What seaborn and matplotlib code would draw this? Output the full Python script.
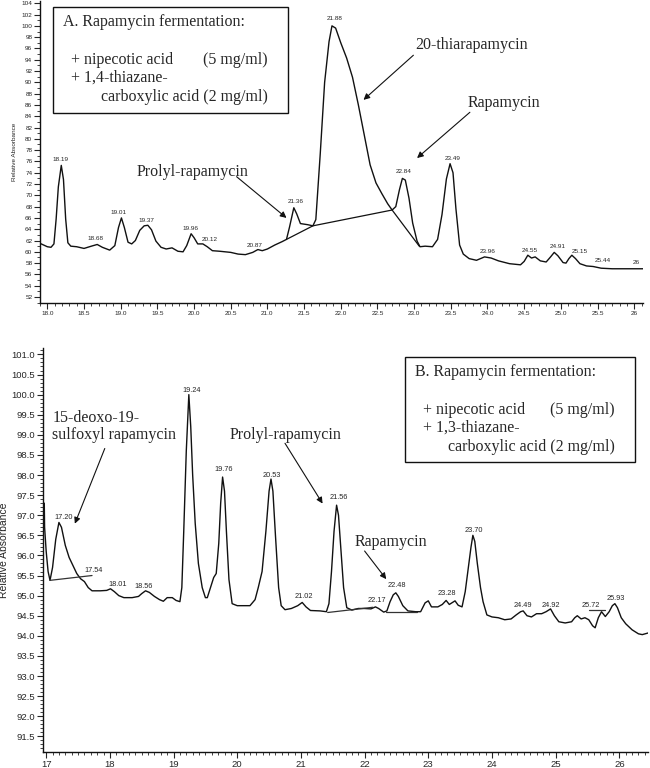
import matplotlib
matplotlib.use("Agg")
import matplotlib.pyplot as plt
import matplotlib.patches as patches
from matplotlib.ticker import MultipleLocator, FixedLocator
import pandas as pd
import seaborn as sns

# ---- panel A trace (retention time, relative absorbance) ----
a_time = [17.9, 17.95, 18.0, 18.05, 18.09, 18.12, 18.15, 18.19, 18.22, 18.25, 18.28, 18.32,
          18.4, 18.5, 18.6, 18.68, 18.75, 18.85, 18.92, 18.97, 19.01, 19.05, 19.1, 19.15,
          19.2, 19.26, 19.32, 19.37, 19.42, 19.48, 19.55, 19.62, 19.7, 19.78, 19.85, 19.9,
          19.96, 20.0, 20.05, 20.12, 20.18, 20.25, 20.35, 20.5, 20.6, 20.7, 20.8, 20.87,
          20.93, 21.0, 21.1, 21.2, 21.26, 21.3, 21.36, 21.4, 21.45, 21.55, 21.62, 21.66,
          21.72, 21.78, 21.84, 21.88, 21.93, 22.0, 22.08, 22.16, 22.24, 22.32, 22.4, 22.48,
          22.56, 22.64, 22.7, 22.75, 22.8, 22.84, 22.88, 22.93, 22.98, 23.04, 23.08, 23.15,
          23.25, 23.32, 23.38, 23.44, 23.49, 23.53, 23.57, 23.62, 23.67, 23.75, 23.85, 23.96,
          24.05, 24.15, 24.3, 24.45, 24.5, 24.55, 24.6, 24.65, 24.72, 24.8, 24.86, 24.91,
          24.96, 25.03, 25.07, 25.11, 25.15, 25.2, 25.26, 25.35, 25.44, 25.55, 25.7, 25.9, 26.12]
a_abs = [61.5, 61.2, 60.9, 60.8, 61.4, 65.8, 71.5, 75.3, 72.8, 65.8, 61.6, 61.0,
         60.9, 60.6, 61.0, 61.3, 60.8, 60.3, 61.1, 64.3, 66.0, 64.3, 61.7, 61.4,
         62.0, 63.8, 64.6, 64.7, 63.9, 61.9, 60.8, 60.5, 60.7, 60.1, 60.0, 61.1,
         63.2, 62.5, 61.4, 61.4, 60.9, 60.2, 60.1, 59.9, 59.6, 59.5, 59.9, 60.4,
         60.2, 60.5, 61.2, 61.8, 62.2, 64.3, 67.8, 66.7, 65.0, 64.8, 64.6, 65.7,
         77.3, 90.0, 97.2, 100.0, 99.6, 97.0, 94.3, 90.9, 86.0, 80.7, 75.4, 72.2,
         70.3, 68.5, 67.4, 68.0, 71.0, 73.0, 72.7, 69.5, 65.1, 61.9, 60.9, 61.0,
         60.9, 62.2, 66.6, 72.9, 75.6, 74.0, 67.6, 61.2, 59.6, 58.8, 58.5, 59.1,
         58.9, 58.4, 57.9, 57.7, 58.3, 59.4, 58.9, 59.1, 58.4, 58.2, 59.1, 59.9,
         59.3, 58.1, 58.0, 58.8, 59.4, 58.8, 57.9, 57.5, 57.4, 57.1, 57.0, 57.0, 57.0]
a_base_time = [21.26, 21.62, 22.7, 23.07]
a_base_abs = [62.2, 64.6, 67.4, 61.0]

a_peak_labels = ["18.19", "18.68", "19.01", "19.37", "19.96", "20.12", "20.87", "21.36", "21.88",
                 "22.84", "23.49", "23.96", "24.55", "24.91", "25.15", "25.44", "26"]
a_peak_x = [18.18, 18.65, 18.97, 19.35, 19.95, 20.21, 20.83, 21.38, 21.92,
            22.86, 23.53, 24.0, 24.58, 24.96, 25.26, 25.57, 26.03]
a_peak_y = [76.4, 62.3, 66.9, 65.6, 64.1, 62.1, 61.1, 68.9, 101.3,
            74.2, 76.5, 60.0, 60.3, 60.9, 60.1, 58.4, 58.1]

a_xticks = [18.0, 18.5, 19.0, 19.5, 20.0, 20.5, 21.0, 21.5, 22.0, 22.5, 23.0, 23.5,
            24.0, 24.5, 25.0, 25.5, 26.0]
a_xticklabels = ["18.0", "18.5", "19.0", "19.5", "20.0", "20.5", "21.0", "21.5", "22.0",
                 "22.5", "23.0", "23.5", "24.0", "24.5", "25.0", "25.5", "26"]

# ---- panel B trace ----
b_time = [16.97, 16.975, 17.0, 17.03, 17.06, 17.1, 17.15, 17.2, 17.24, 17.3, 17.36, 17.42,
          17.48, 17.54, 17.6, 17.66, 17.72, 17.85, 17.95, 18.01, 18.07, 18.14, 18.22, 18.35,
          18.45, 18.5, 18.56, 18.62, 18.7, 18.78, 18.84, 18.9, 18.98, 19.04, 19.1, 19.13,
          19.16, 19.2, 19.24, 19.27, 19.3, 19.34, 19.39, 19.45, 19.5, 19.53, 19.58, 19.63,
          19.67, 19.71, 19.74, 19.77, 19.8, 19.83, 19.87, 19.92, 20.0, 20.1, 20.2, 20.28,
          20.33, 20.39, 20.45, 20.5, 20.53, 20.56, 20.6, 20.65, 20.69, 20.75, 20.85, 20.95,
          21.02, 21.08, 21.15, 21.3, 21.4, 21.44, 21.48, 21.52, 21.56, 21.59, 21.63, 21.67,
          21.72, 21.8, 21.9, 22.0, 22.1, 22.17, 22.22, 22.3, 22.35, 22.4, 22.45, 22.49,
          22.53, 22.6, 22.68, 22.8, 22.88, 22.95, 23.0, 23.05, 23.15, 23.22, 23.28, 23.33,
          23.38, 23.42, 23.47, 23.53, 23.58, 23.63, 23.67, 23.7, 23.73, 23.77, 23.82, 23.86,
          23.92, 24.0, 24.1, 24.2, 24.3, 24.38, 24.45, 24.49, 24.55, 24.62, 24.7, 24.78,
          24.85, 24.92, 24.98, 25.05, 25.15, 25.25, 25.3, 25.34, 25.4, 25.46, 25.52, 25.58,
          25.62, 25.67, 25.72, 25.78, 25.84, 25.89, 25.93, 25.97, 26.03, 26.1, 26.2, 26.3,
          26.36, 26.45]
b_abs = [97.3, 96.7, 96.1, 95.6, 95.38, 95.7, 96.4, 96.82, 96.7, 96.25, 95.95, 95.75,
         95.55, 95.42, 95.35, 95.2, 95.12, 95.12, 95.13, 95.17, 95.1, 95.0, 94.95, 94.95,
         94.98, 95.05, 95.12, 95.08, 94.98, 94.9, 94.86, 94.95, 94.95, 94.88, 94.85, 95.2,
         96.6, 98.6, 100.0, 99.2, 98.0, 96.8, 95.8, 95.2, 94.95, 94.95, 95.2, 95.45,
         95.55, 96.3, 97.3, 97.95, 97.6, 96.6, 95.4, 94.8, 94.75, 94.75, 94.75, 94.9,
         95.2, 95.6, 96.6, 97.6, 97.9, 97.6, 96.5, 95.2, 94.75, 94.65, 94.68, 94.75,
         94.83, 94.72, 94.63, 94.62, 94.6, 94.8, 95.6, 96.6, 97.25, 97.0, 96.1, 95.2,
         94.7, 94.64, 94.68, 94.68, 94.67, 94.72, 94.68, 94.59, 94.62, 94.85, 95.02, 95.07,
         94.98, 94.75, 94.62, 94.6, 94.6, 94.82, 94.87, 94.72, 94.72, 94.78, 94.88, 94.78,
         94.83, 94.87, 94.76, 94.72, 95.1, 95.7, 96.2, 96.5, 96.35, 95.8, 95.2, 94.85,
         94.52, 94.47, 94.45, 94.4, 94.42, 94.52, 94.6, 94.62, 94.5, 94.47, 94.55, 94.55,
         94.6, 94.67, 94.5, 94.35, 94.32, 94.35, 94.45, 94.5, 94.42, 94.45, 94.4, 94.25,
         94.2, 94.45, 94.6, 94.48, 94.6, 94.75, 94.8, 94.7, 94.45, 94.3, 94.15, 94.05,
         94.03, 94.07]
b_base_segments = [([17.06, 17.72], [95.38, 95.5]),
                   ([21.42, 22.13], [94.58, 94.71]),
                   ([22.34, 22.82], [94.59, 94.59]),
                   ([25.52, 25.78], [94.64, 94.64])]

b_peak_labels = ["17.20", "17.54", "18.01", "18.56", "19.24", "19.76", "20.53", "21.02",
                 "21.56", "22.17", "22.48", "23.28", "23.70", "24.49", "24.92", "25.72", "25.93"]
b_peak_x = [17.27, 17.74, 18.13, 18.53, 19.28, 19.78, 20.55, 21.04,
            21.59, 22.2, 22.5, 23.29, 23.72, 24.48, 24.93, 25.55, 25.94]
b_peak_y = [96.94, 95.62, 95.27, 95.22, 100.11, 98.13, 98.0, 94.99,
            97.45, 94.88, 95.26, 95.05, 96.61, 94.76, 94.76, 94.76, 94.94]

b_xticks = [17, 18, 19, 20, 21, 22, 23, 24, 25, 26]
b_yticks = [91.5, 92.0, 92.5, 93.0, 93.5, 94.0, 94.5, 95.0, 95.5, 96.0, 96.5, 97.0,
            97.5, 98.0, 98.5, 99.0, 99.5, 100.0, 100.5, 101.0]

sns.set_style("ticks")
plt.rcParams["font.family"] = ["Liberation Sans", "DejaVu Sans"]
SERIF = "Liberation Serif"

W, H = 650, 768
fig = plt.figure(figsize=(6.5, 7.68), dpi=100)


def fx(px):
    return px / W


def fy(py):
    return 1 - py / H


ax_a = fig.add_axes([fx(40), fy(303), (643 - 40) / W, (303 - 1) / H])
ax_b = fig.add_axes([fx(43), fy(752), (648 - 43) / W, (752 - 348) / H])

# traces
sns.lineplot(x=a_time, y=a_abs, ax=ax_a, color="#111111", lw=1.0, sort=False, estimator=None)
sns.lineplot(x=a_base_time, y=a_base_abs, ax=ax_a, color="#111111", lw=0.9, sort=False, estimator=None)
sns.lineplot(x=b_time, y=b_abs, ax=ax_b, color="#111111", lw=1.0, sort=False, estimator=None)
for bx, by in b_base_segments:
    sns.lineplot(x=bx, y=by, ax=ax_b, color="#333333", lw=0.9, sort=False, estimator=None)

for lab, x, y in zip(a_peak_labels, a_peak_x, a_peak_y):
    ax_a.text(x, y, lab, fontsize=4.6, ha="center", va="center")
for lab, x, y in zip(b_peak_labels, b_peak_x, b_peak_y):
    ax_b.text(x, y, lab, fontsize=5.3, ha="center", va="center")

# axes styling
ax_a.set_xlim(17.9, 26.12)
ax_a.set_ylim(50.94, 104.4)
ax_a.xaxis.set_major_locator(FixedLocator(a_xticks))
ax_a.set_xticklabels(a_xticklabels)
ax_a.xaxis.set_minor_locator(MultipleLocator(0.1))
ax_a.yaxis.set_major_locator(MultipleLocator(2))
ax_a.yaxis.set_minor_locator(MultipleLocator(1))
ax_a.tick_params(which="major", length=4, width=0.8, labelsize=4.6, pad=1.5)
ax_a.tick_params(which="minor", length=2, width=0.6)
ax_a.set_ylabel("Relative Absorbance", fontsize=4.6, labelpad=3)
ax_a.set_xlabel("")

ax_b.set_xlim(16.95, 26.45)
ax_b.set_ylim(91.11, 101.16)
ax_b.xaxis.set_major_locator(FixedLocator(b_xticks))
ax_b.xaxis.set_minor_locator(MultipleLocator(0.1))
ax_b.yaxis.set_major_locator(FixedLocator(b_yticks))
ax_b.yaxis.set_major_formatter(matplotlib.ticker.FormatStrFormatter("%.1f"))
ax_b.yaxis.set_minor_locator(MultipleLocator(0.1))
ax_b.tick_params(which="major", length=4, width=0.8, labelsize=6.8, pad=1.5)
ax_b.tick_params(which="minor", length=2, width=0.6)
ax_b.set_ylabel("Relative Absorbance", fontsize=7.5, labelpad=2)
ax_b.set_xlabel("")

for ax in (ax_a, ax_b):
    sns.despine(ax=ax)
    for s in ("left", "bottom"):
        ax.spines[s].set_linewidth(1.0)
        ax.spines[s].set_color("#111111")

# arrows
arrow = dict(arrowstyle="-|>", color="#111111", lw=0.8, mutation_scale=9, shrinkA=0, shrinkB=0)
ax_a.annotate("", xy=(22.31, 86.9), xytext=(22.99, 94.8), arrowprops=arrow)
ax_a.annotate("", xy=(23.04, 76.6), xytext=(23.76, 84.7), arrowprops=arrow)
ax_a.annotate("", xy=(21.26, 66.0), xytext=(20.58, 73.3), arrowprops=arrow)
ax_b.annotate("", xy=(17.45, 96.79), xytext=(17.92, 98.66), arrowprops=arrow)
ax_b.annotate("", xy=(21.34, 97.29), xytext=(20.75, 98.79), arrowprops=arrow)
ax_b.annotate("", xy=(22.34, 95.41), xytext=(22.0, 96.11), arrowprops=arrow)

# serif annotations (pixel placement)
FS = 11.5


def ptext(px, py, s, ha="left"):
    fig.text(fx(px), fy(py), s, fontsize=FS, family=SERIF, ha=ha, va="center")


ptext(415, 45, "20-thiarapamycin")
ptext(468, 103, "Rapamycin")
ptext(137, 172, "Prolyl-rapamycin")
ptext(53, 418, "15-deoxo-19-")
ptext(52, 435, "sulfoxyl rapamycin")
ptext(230, 435, "Prolyl-rapamycin")
ptext(355, 542, "Rapamycin")


def info_box(left, top, right, bottom, title, mid):
    fig.add_artist(patches.Rectangle((fx(left), fy(bottom)), (right - left) / W, (bottom - top) / H,
                                     transform=fig.transFigure, fill=False, lw=1.0, ec="#111111"))
    ptext(left + 10, top + 15, title)
    ptext(left + 18, top + 53, "+ nipecotic acid")
    ptext(right - 20, top + 53, "(5 mg/ml)", ha="right")
    ptext(left + 18, top + 71, "+ " + mid)
    ptext(right - 20, top + 90, "carboxylic acid (2 mg/ml)", ha="right")


info_box(53, 7, 288, 113, "A. Rapamycin fermentation:", "1,4-thiazane-")
info_box(405, 357, 635, 462, "B. Rapamycin fermentation:", "1,3-thiazane-")

fig.savefig("out.png", dpi=100)
